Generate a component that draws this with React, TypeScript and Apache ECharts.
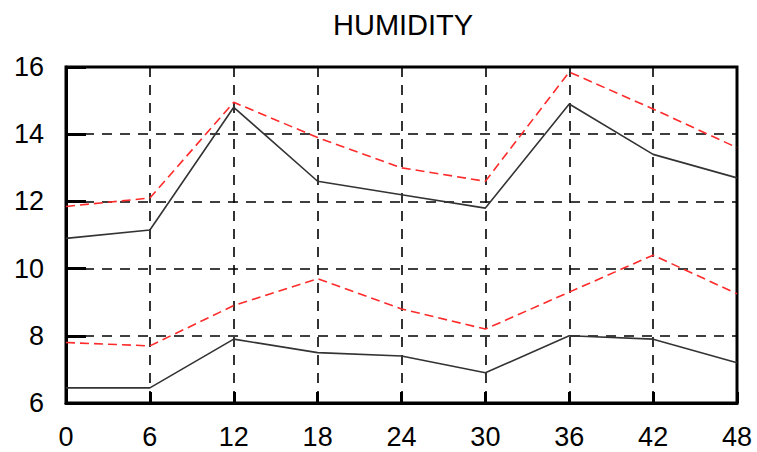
import React, { useEffect, useRef } from "react";
import * as echarts from "echarts";

const hours = [0, 6, 12, 18, 24, 30, 36, 42, 48];
const upperBlack = [10.9, 11.15, 14.8, 12.6, 12.2, 11.8, 14.9, 13.4, 12.7];
const upperRed = [11.85, 12.1, 14.95, 13.9, 13.0, 12.6, 15.85, 14.75, 13.6];
const lowerBlack = [6.45, 6.45, 7.9, 7.5, 7.4, 6.9, 8.0, 7.9, 7.2];
const lowerRed = [7.8, 7.7, 8.9, 9.7, 8.8, 8.2, 9.3, 10.4, 9.25];

const pairs = (ys: number[]) => hours.map((h, i) => [h, ys[i]]);

export default function App() {
  const ref = useRef<HTMLDivElement>(null);
  useEffect(() => {
    if (!ref.current) return;
    const chart = echarts.init(ref.current, null, { renderer: "svg" });
    const font = "'Liberation Sans', Arial, Helvetica, sans-serif";
    const gridLine = { show: true, lineStyle: { color: "#000", width: 1.6, type: [10, 8] as any } };
    const blackStyle = { color: "#333", width: 1.6, type: "solid" as const };
    const redStyle = { color: "#ff2a2a", width: 1.6, type: [9, 5] as any };
    chart.setOption({
      animation: false,
      backgroundColor: "#fff",
      title: {
        text: "HUMIDITY",
        left: 328,
        top: 5,
        textStyle: { fontFamily: font, fontSize: 29, fontWeight: "normal", color: "#000" },
      },
      grid: {
        left: 66,
        right: 20,
        top: 67,
        bottom: 49,
        show: true,
        borderColor: "#000",
        borderWidth: 3,
      },
      xAxis: {
        type: "value",
        min: 0,
        max: 48,
        interval: 6,
        axisLine: { show: true, lineStyle: { color: "#000", width: 3 } },
        axisTick: { show: true, inside: true, length: 11, lineStyle: { color: "#000", width: 3 } },
        axisLabel: { color: "#000", fontFamily: font, fontSize: 27, margin: 20 },
        splitLine: gridLine,
      },
      yAxis: {
        type: "value",
        min: 6,
        max: 16,
        interval: 2,
        axisLine: { show: true, lineStyle: { color: "#000", width: 3 } },
        axisTick: { show: true, inside: true, length: 20, lineStyle: { color: "#000", width: 3 } },
        axisLabel: { color: "#000", fontFamily: font, fontSize: 27, margin: 22 },
        splitLine: gridLine,
      },
      series: [
        { type: "line", data: pairs(upperBlack), symbol: "none", lineStyle: blackStyle, z: 3 },
        { type: "line", data: pairs(upperRed), symbol: "none", lineStyle: redStyle, z: 3 },
        { type: "line", data: pairs(lowerBlack), symbol: "none", lineStyle: blackStyle, z: 3 },
        { type: "line", data: pairs(lowerRed), symbol: "none", lineStyle: redStyle, z: 3 },
      ],
    });
    return () => chart.dispose();
  }, []);
  return (
    <div
      ref={ref}
      style={{ position: "fixed", left: 0, top: 0, width: 757, height: 452, background: "#fff" }}
    />
  );
}
